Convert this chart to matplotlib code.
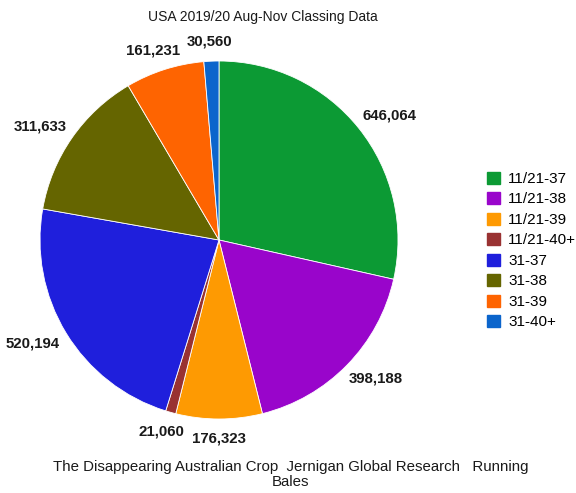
import matplotlib
matplotlib.use("Agg")
import matplotlib.pyplot as plt
import numpy as np

plt.rcParams['font.family'] = ['Liberation Sans', 'DejaVu Sans']

categories = ["11/21-37", "11/21-38", "11/21-39", "11/21-40+",
              "31-37", "31-38", "31-39", "31-40+"]
bales = [646064, 398188, 176323, 21060, 520194, 311633, 161231, 30560]
colors = ["#0c9a34", "#9905cb", "#fe9a02", "#993232",
          "#1f1fdc", "#656500", "#fe6401", "#0b65cc"]

fig = plt.figure(figsize=(5.76, 4.93), dpi=100)
ax = fig.add_axes([40 / 576, 74 / 493, 358 / 576, 358 / 493])

wedges, _ = ax.pie(bales, colors=colors, startangle=90, counterclock=False,
                   wedgeprops=dict(linewidth=0.6, edgecolor="white"))
ax.set_aspect("equal")
ax.set_xlim(-1, 1)
ax.set_ylim(-1, 1)

# value labels just outside each wedge, pushed out by half their own size
fig.canvas.draw()
renderer = fig.canvas.get_renderer()
px_per_unit = ax.bbox.width / 2.0
for w, v in zip(wedges, bales):
    mid = np.deg2rad((w.theta1 + w.theta2) / 2)
    ux, uy = np.cos(mid), np.sin(mid)
    t = ax.text(0, 0, f"{v:,}", ha="center", va="center",
                fontsize=10.8, fontweight="bold", color="#1a1a1a")
    bb = t.get_window_extent(renderer)
    hw = bb.width / 2 / px_per_unit
    hh = bb.height / 2 / px_per_unit
    r = 1.07
    t.set_position((r * ux + hw * ux, r * uy + hh * uy))

handles = [plt.Rectangle((0, 0), 1, 1, facecolor=c, edgecolor=c) for c in colors]
fig.legend(handles, categories, loc="upper left", bbox_to_anchor=(0.845, 0.652),
           frameon=False, fontsize=11, handlelength=0.85, handleheight=0.85,
           handletextpad=0.55, labelspacing=0.40, borderpad=0, borderaxespad=0)

fig.text(0.457, 0.965, "USA 2019/20 Aug-Nov Classing Data", ha="center",
         va="center", fontsize=10, color="#1a1a1a")
fig.text(0.505, 0.038, "The Disappearing Australian Crop  Jernigan Global Research   Running\nBales",
         ha="center", va="center", fontsize=10.8, color="#1a1a1a", linespacing=1.05)

fig.savefig("out.png", dpi=100)
